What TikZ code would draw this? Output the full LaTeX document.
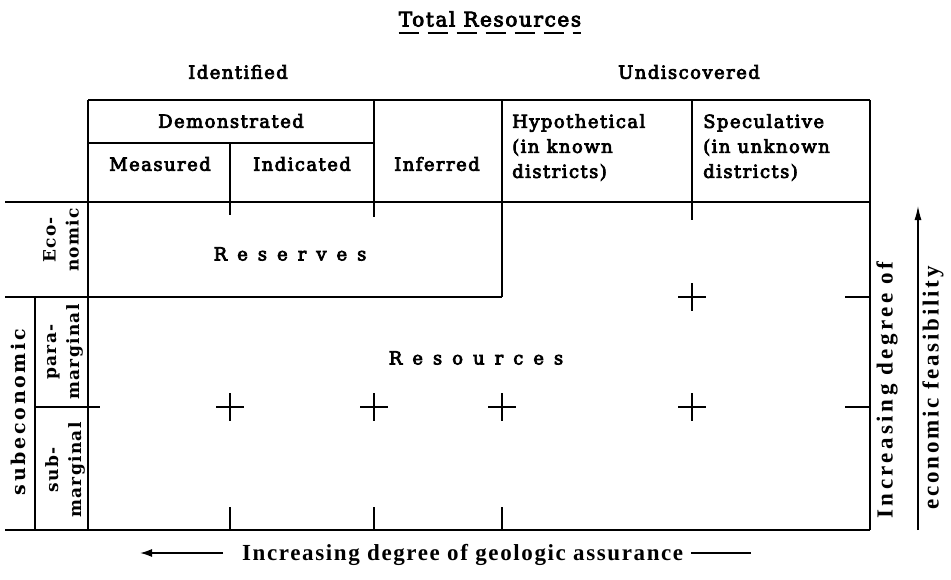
\documentclass[tikz,border=0pt]{standalone}
\usepackage{fontspec}
\usetikzlibrary{arrows.meta}
\setmainfont{DejaVu Serif}
\newfontfamily\hd[LetterSpace=8,FakeBold=4]{DejaVu Serif}
\newfontfamily\sidef[LetterSpace=8]{DejaVu Serif}
\newfontfamily\sidewide[LetterSpace=14]{DejaVu Serif}
\newfontfamily\cond[LetterSpace=7]{Liberation Serif}
\newfontfamily\condwide[LetterSpace=15]{Liberation Serif}
\newfontfamily\condmid[LetterSpace=12]{Liberation Serif}
\newcommand\gp{\hskip 10pt}
\begin{document}
\begin{tikzpicture}[x=1pt,y=-1pt,
  rule/.style={line width=1.7pt},
  hdr/.style={inner sep=0pt,font=\hd\fontsize{18}{25}\selectfont},
  side/.style={inner sep=0pt,rotate=90,align=center,font=\sidef\bfseries\fontsize{17}{23}\selectfont},
  axis/.style={inner sep=0pt,font=\cond\bfseries\fontsize{23}{37}\selectfont},
  vaxis/.style={inner sep=0pt,rotate=90,font=\condwide\bfseries\fontsize{23}{37}\selectfont},
  crossmark/.style={line width=1.7pt}]
\useasboundingbox (0,0) rectangle (951,579);
% titles
\node[hdr,font=\hd\fontsize{20}{25}\selectfont] (total) at (490,19) {Total Resources};
\draw[line width=1.3pt,dash pattern=on 20pt off 9pt] ([yshift=-6pt]total.south west) -- ([yshift=-6pt]total.south east);
\node[hdr] (ident) at (238,72) {Identified};
\node[hdr] (undisc) at (689,72) {Undiscovered};
% table lines
\draw[rule] (88,100) -- (870,100);
\draw[rule] (88,143) -- (374,143);
\draw[rule] (88,100) -- (88,530);
\draw[rule] (230,143) -- (230,215);
\draw[rule] (374,100) -- (374,217);
\draw[rule] (502,100) -- (502,297);
\draw[rule] (692,100) -- (692,220);
\draw[rule] (870,100) -- (870,530);
\draw[rule] (5,202) -- (870,202);
\draw[rule] (5,297) -- (502,297);
\draw[rule] (35,297) -- (35,530);
\draw[rule] (35,407) -- (100,407);
\draw[rule] (5,530) -- (870,530);
\draw[rule] (845,297) -- (870,297);
\draw[rule] (845,407) -- (870,407);
\foreach \x in {230,374,502} \draw[rule] (\x,507) -- (\x,530);
\foreach \p in {(230,407),(374,407),(502,407),(692,407),(692,297)}
  \draw[crossmark] \p ++(-14,0) -- ++(28,0) \p ++(0,-14) -- ++(0,28);
% header texts
\node[hdr] (demo) at (231,121) {Demonstrated};
\node[hdr] (meas) at (160,164) {Measured};
\node[hdr] (indic) at (302,164) {Indicated};
\node[hdr] (infer) at (437,164) {Inferred};
\node[hdr,align=left,anchor=north west] (hypo) at (512,114) {Hypothetical\\(in known\\districts)};
\node[hdr,align=left,anchor=north west] (spec) at (703,114) {Speculative\\(in unknown\\districts)};
% body texts
\node[hdr] (reserves) at (290,254) {R\gp e\gp s\gp e\gp r\gp v\gp e\gp s};
\node[hdr] (resources) at (476,358) {R\gp e\gp s\gp o\gp u\gp r\gp c\gp e\gp s};
% side labels
\node[side] (econ) at (61,240) {Eco-\\nomic};
\node[side,font=\sidewide\bfseries\fontsize{19}{23}\selectfont] (subecon) at (18,412) {subeconomic};
\node[side] (para) at (65,352) {para-\\marginal};
\node[side] (submarg) at (65,470) {sub-\\marginal};
% axes
\node[axis,anchor=west] (geo) at (242,555) {Increasing degree of geologic assurance};
\coordinate (geoL) at (223,553);
\coordinate (geoLend) at (140,553);
\draw[line width=1.6pt,-{Latex[length=12pt,width=8pt]}] (geoL) -- (geoLend);
\draw[line width=1.6pt] ([xshift=8pt,yshift=2pt]geo.east) -- ++(60,0);
\node[vaxis] (feas1) at (887,390) {Increasing degree of};
\node[vaxis,font=\condmid\bfseries\fontsize{23}{37}\selectfont] (feas2) at (933,388) {economic feasibility};
\coordinate (fb) at (918,530);
\coordinate (ft) at (918,206);
\draw[line width=1.2pt,-{Latex[length=14pt,width=7pt]}] (fb) -- (ft);
\end{tikzpicture}
\end{document}
